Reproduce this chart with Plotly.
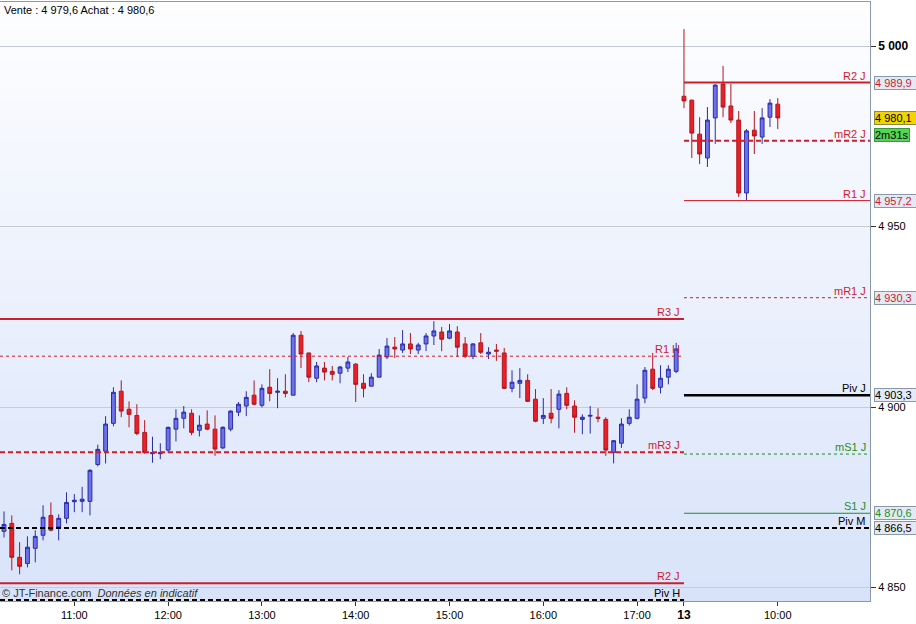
import plotly.graph_objects as go

# --- 5 min candles: day 12 from 10:15 to 17:25, day 13 from 09:00 to 10:00 ---
opens = [
    4865.6, 4867.8, 4858.4, 4856.7, 4860.9, 4864.5, 4870.0, 4866.8, 4869.2, 4873.8,
    4873.9, 4873.9, 4884.1, 4887.8, 4895.5, 4904.4, 4899.4, 4897.7, 4893.0, 4887.1,
    4887.1, 4888.1, 4893.9, 4896.9, 4898.3, 4893.6, 4895.3, 4893.9, 4888.7, 4893.9,
    4898.6, 4900.3, 4903.3, 4900.5, 4905.5, 4904.1, 4904.4, 4903.3, 4919.9, 4915.0,
    4908.0, 4910.8, 4909.9, 4909.4, 4910.8, 4911.9, 4906.6, 4905.8, 4908.3, 4913.9,
    4916.6, 4915.8, 4917.5, 4915.8, 4917.5, 4919.7, 4920.8, 4919.1, 4920.8, 4917.5,
    4914.1, 4917.8, 4914.7, 4915.8, 4915.0, 4905.2, 4906.6, 4907.4, 4902.2, 4896.9,
    4898.3, 4899.4, 4903.8, 4900.3, 4896.6, 4897.5, 4897.2, 4896.6, 4887.4, 4890.0,
    4895.5, 4896.9, 4902.5, 4910.5, 4905.5, 4908.3, 4909.9,
    4986.1, 4985.0, 4975.6, 4969.0, 4980.1, 4989.5, 4983.4, 4979.5, 4959.3, 4976.7,
    4974.8, 4980.3, 4983.9,
]
highs = [
    4871.1, 4870.0, 4862.6, 4864.2, 4865.9, 4872.8, 4873.6, 4870.3, 4876.4, 4875.9,
    4877.9, 4882.8, 4889.6, 4897.5, 4905.5, 4907.4, 4901.6, 4900.8, 4896.4, 4891.8,
    4890.0, 4894.6, 4899.4, 4900.3, 4899.4, 4897.7, 4899.1, 4897.7, 4894.7, 4899.1,
    4901.4, 4904.4, 4907.4, 4906.3, 4910.5, 4908.0, 4909.1, 4920.5, 4921.1, 4915.0,
    4912.5, 4912.5, 4911.4, 4911.4, 4913.9, 4912.2, 4909.1, 4909.4, 4916.1, 4919.1,
    4919.4, 4921.3, 4920.5, 4917.8, 4920.5, 4923.8, 4922.2, 4923.0, 4922.4, 4919.4,
    4917.7, 4920.5, 4916.6, 4917.5, 4916.4, 4910.2, 4910.8, 4909.1, 4905.0, 4902.5,
    4905.0, 4904.7, 4905.5, 4901.9, 4898.0, 4900.3, 4899.7, 4897.2, 4890.9, 4896.9,
    4899.4, 4906.3, 4911.1, 4915.0, 4911.6, 4911.6, 4917.8,
    5004.7, 4985.2, 4980.3, 4983.1, 4989.4, 4994.5, 4989.5, 4982.0, 4977.0, 4982.0,
    4982.8, 4985.3, 4985.6,
]
lows = [
    4863.9, 4854.8, 4853.7, 4855.6, 4857.0, 4863.1, 4865.6, 4863.1, 4867.8, 4870.9,
    4870.9, 4870.0, 4883.6, 4884.4, 4894.7, 4897.2, 4894.4, 4892.2, 4887.1, 4884.6,
    4885.6, 4887.4, 4890.5, 4894.1, 4892.2, 4891.9, 4893.6, 4886.5, 4888.4, 4893.3,
    4897.5, 4897.5, 4900.5, 4899.9, 4901.6, 4899.7, 4902.7, 4903.3, 4910.8, 4906.9,
    4906.9, 4907.4, 4907.4, 4906.6, 4909.7, 4901.4, 4902.7, 4905.8, 4908.3, 4913.3,
    4913.6, 4915.0, 4914.7, 4914.7, 4915.5, 4917.2, 4915.5, 4918.8, 4913.9, 4913.6,
    4913.3, 4914.7, 4913.3, 4912.8, 4905.0, 4904.1, 4902.5, 4901.4, 4895.8, 4895.3,
    4895.5, 4894.1, 4899.4, 4892.9, 4892.5, 4892.7, 4895.8, 4886.5, 4884.4, 4888.7,
    4894.9, 4896.6, 4901.1, 4904.7, 4903.8, 4906.3, 4909.4,
    4982.8, 4969.0, 4967.3, 4966.5, 4972.9, 4980.3, 4978.7, 4958.2, 4957.3, 4970.1,
    4972.9, 4977.6, 4977.0,
]
closes = [
    4867.5, 4858.4, 4855.9, 4861.2, 4864.2, 4869.5, 4865.9, 4869.2, 4873.6, 4874.2,
    4874.5, 4882.5, 4888.3, 4895.3, 4904.1, 4898.9, 4898.0, 4892.7, 4887.4, 4887.4,
    4887.4, 4894.4, 4896.9, 4898.6, 4893.0, 4895.0, 4893.9, 4888.4, 4894.4, 4898.9,
    4900.8, 4902.7, 4900.8, 4905.2, 4903.8, 4904.4, 4903.8, 4919.9, 4914.7, 4908.3,
    4911.4, 4909.7, 4909.1, 4911.1, 4912.5, 4906.3, 4905.2, 4908.3, 4914.4, 4916.9,
    4916.1, 4917.5, 4916.1, 4917.2, 4919.7, 4921.1, 4918.8, 4921.1, 4916.6, 4914.1,
    4917.5, 4915.2, 4915.2, 4915.5, 4905.2, 4906.9, 4907.4, 4901.6, 4896.1, 4897.7,
    4896.9, 4903.6, 4900.5, 4897.2, 4897.2, 4897.7, 4896.9, 4888.1, 4890.7, 4895.3,
    4897.2, 4902.2, 4910.2, 4905.2, 4908.0, 4910.5, 4916.1,
    4984.8, 4975.9, 4970.1, 4979.5, 4989.2, 4983.1, 4979.5, 4959.3, 4976.5, 4975.1,
    4980.1, 4984.2, 4980.1,
]

# session labels per candle
times = []
for h in range(10, 18):
    for m in range(0, 60, 5):
        if (h, m) >= (10, 15) and (h, m) <= (17, 25):
            times.append(f"12 {h:02d}:{m:02d}")
for h in range(9, 11):
    for m in range(0, 60, 5):
        if (h, m) <= (10, 0):
            times.append(f"13 {h:02d}:{m:02d}")

tick_times = ["12 11:00", "12 12:00", "12 13:00", "12 14:00", "12 15:00",
              "12 16:00", "12 17:00", "13 09:00", "13 10:00"]
tick_labels = ["11:00", "12:00", "13:00", "14:00", "15:00", "16:00", "17:00",
               "<b style='font-size:12px'>13</b>", "10:00"]

# pivot levels: name, value, session, price box shown
level_names = ["R2 J", "mR2 J", "R1 J", "mR1 J", "Piv J", "mS1 J", "S1 J", "Piv M",
               "R3 J", "R1 H", "mR3 J", "R2 J", "Piv H"]
level_values = [4989.9, 4973.8, 4957.2, 4930.3, 4903.3, 4887.0, 4870.6, 4866.5,
                4924.4, 4914.1, 4887.5, 4851.2, 4846.6]
level_session = ["13", "13", "13", "13", "13", "13", "13", "all",
                 "12", "12", "12", "12", "12"]
level_boxed = [True, False, True, True, True, False, True, True,
               False, False, False, False, False]

bid, ask = "4 979,6", "4 980,6"
last_price = 4980.1
countdown = "2m31s"

RED = "#d01c28"
GREEN = "#1f8f1f"
BLACK = "#000000"
FONT = "Liberation Sans, Arial, sans-serif"

level_style = {
    "R2 J": (RED, 2, "solid"), "mR2 J": (RED, 2, "5px,3px"),
    "R1 J": (RED, 1, "solid"), "mR1 J": (RED, 1, "3px,3px"),
    "Piv J": (BLACK, 2.5, "solid"), "mS1 J": (GREEN, 1, "3px,3px"),
    "S1 J": (GREEN, 1, "solid"), "Piv M": (BLACK, 2, "5px,3px"),
    "R3 J": (RED, 2, "solid"), "R1 H": (RED, 1, "3px,3px"),
    "mR3 J": (RED, 2, "5px,3px"), "Piv H": (BLACK, 2, "5px,3px"),
}

#-----------------------------------------------------------------------------------

x_idx = list(range(len(times)))
day_start = times.index("13 09:00")
x_min, x_max = -0.51, 110.8

fig = go.Figure()

# background gradient (white -> light blue), under the grid
top_rgb, bot_rgb = (254, 254, 255), (216, 227, 250)
bands = 60
for i in range(bands):
    f = (i + 0.5) / bands
    c = tuple(round(top_rgb[k] + (bot_rgb[k] - top_rgb[k]) * f) for k in range(3))
    fig.add_shape(type="rect", xref="paper", yref="paper",
                  x0=0, x1=1, y0=1 - (i + 1) / bands, y1=1 - i / bands + 0.002,
                  fillcolor=f"rgb{c}", line_width=0, layer="below")

annotations = []
for name, val, sess, boxed in zip(level_names, level_values, level_session, level_boxed):
    color, width, dash = level_style[name]
    if sess == "13":
        xs = [day_start, x_max]
    elif sess == "12":
        xs = [x_min, day_start]
    else:
        xs = [x_min, x_max]
    fig.add_trace(go.Scatter(x=xs, y=[val, val], mode="lines",
                             line=dict(color=color, width=width, dash=dash),
                             hoverinfo="skip", showlegend=False))
    annotations.append(dict(x=xs[1], y=val, xref="x", yref="y", text=name,
                            showarrow=False, xanchor="right", yanchor="bottom",
                            xshift=-2, yshift=-1,
                            font=dict(family=FONT, size=11, color=color)))
    if boxed:
        txt = f"{val:,.1f}".replace(",", " ").replace(".", ",")
        annotations.append(dict(x=1, y=val, xref="paper", yref="y", text=txt,
                                showarrow=False, xanchor="left", yanchor="middle",
                                xshift=4, align="left", width=42,
                                bgcolor="#e3eaf6", bordercolor="#8a98a8",
                                borderwidth=1, borderpad=0,
                                font=dict(family=FONT, size=11, color=color)))

fig.add_trace(go.Candlestick(
    x=x_idx, open=opens, high=highs, low=lows, close=closes,
    increasing=dict(line=dict(color="#2b2ba8", width=1), fillcolor="#6b72ec"),
    decreasing=dict(line=dict(color="#b4141c", width=1), fillcolor="#ea2028"),
    whiskerwidth=0, showlegend=False, hoverinfo="skip",
))

last_txt = f"{last_price:,.1f}".replace(",", " ").replace(".", ",")
annotations += [
    dict(x=1, y=last_price, xref="paper", yref="y", text=last_txt, showarrow=False,
         xanchor="left", yanchor="middle", xshift=4, align="left", width=42,
         bgcolor="#f3d400", bordercolor="#8a8a50", borderwidth=1, borderpad=0,
         font=dict(family=FONT, size=11, color="#000000")),
    dict(x=1, y=last_price, xref="paper", yref="y", text=countdown, showarrow=False,
         xanchor="left", yanchor="middle", xshift=4, yshift=-17, align="left", width=34,
         bgcolor="#55d455", bordercolor="#3a9a3a", borderwidth=1, borderpad=0,
         font=dict(family=FONT, size=11, color="#000000")),
    dict(x=0, y=1, xref="paper", yref="paper", text=f"Vente : {bid} Achat : {ask}",
         showarrow=False, xanchor="left", yanchor="top", xshift=2, yshift=0,
         font=dict(family=FONT, size=11, color="#000000")),
    dict(x=0, y=0, xref="paper", yref="paper",
         text="© JT-Finance.com  <i>Données en indicatif</i>",
         showarrow=False, xanchor="left", yanchor="bottom", xshift=0, yshift=0,
         font=dict(family=FONT, size=11, color="#333333")),
]

fig.update_layout(
    width=916, height=624,
    margin=dict(l=0, r=46, t=2, b=23),
    paper_bgcolor="white",
    plot_bgcolor="rgba(0,0,0,0)",
    font=dict(family=FONT, size=11, color="#000000"),
    showlegend=False,
    annotations=annotations,
    xaxis=dict(
        range=[x_min, x_max], rangeslider=dict(visible=False),
        tickvals=[times.index(t) for t in tick_times], ticktext=tick_labels,
        showgrid=False, zeroline=False,
        showline=True, mirror=True, linecolor="#8a98a8", linewidth=1,
        ticks="outside", ticklen=4, tickcolor="#333333",
        tickfont=dict(family=FONT, size=11, color="#000000"),
    ),
    yaxis=dict(
        range=[4846.3, 5012.2], side="right",
        tickvals=[4850, 4900, 4950, 5000],
        ticktext=["4 850", "4 900", "4 950", "<b style='font-size:12px'>5 000</b>"],
        showgrid=True, gridcolor="#c6ccd6", gridwidth=1, zeroline=False,
        showline=True, linecolor="#8a98a8", linewidth=1,
        ticks="outside", ticklen=5, tickcolor="#333333",
        tickfont=dict(family=FONT, size=11, color="#000000"),
    ),
)

# the page's default body margin would shift the chart by 8px
fig.write_html(
    "out.html",
    config={"displayModeBar": False},
    post_script="document.body.style.margin='0';document.body.style.overflow='hidden';",
)
